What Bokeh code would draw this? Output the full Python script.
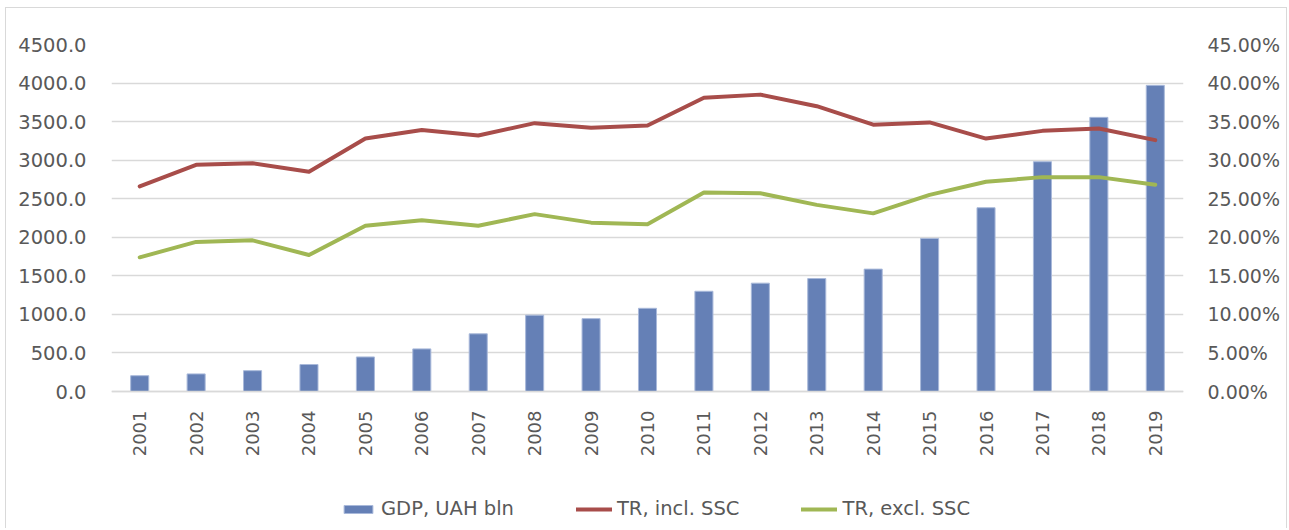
from bokeh.plotting import figure
from bokeh.models import (Range1d, FactorRange, LinearAxis, FixedTicker, NumeralTickFormatter,
                          Legend, LegendItem, ColumnDataSource)
from bokeh.embed import file_html
from bokeh.resources import INLINE
import math

years = [str(y) for y in range(2001, 2020)]
gdp = [205, 228, 270, 350, 448, 552, 748, 990, 945, 1079, 1300, 1405, 1465, 1587, 1985, 2383, 2980, 3555, 3970]
tr_incl = [0.266, 0.294, 0.296, 0.285, 0.328, 0.339, 0.332, 0.348, 0.342, 0.345, 0.381, 0.385, 0.370,
           0.346, 0.349, 0.328, 0.338, 0.341, 0.326]
tr_excl = [0.174, 0.194, 0.196, 0.177, 0.215, 0.222, 0.215, 0.230, 0.219, 0.217, 0.258, 0.257, 0.242,
           0.231, 0.255, 0.272, 0.278, 0.278, 0.268]
left_ticks = [0, 500, 1000, 1500, 2000, 2500, 3000, 3500, 4000, 4500]
right_ticks = [0.0, 0.05, 0.10, 0.15, 0.20, 0.25, 0.30, 0.35, 0.40, 0.45]

FONT = "DejaVu Sans"
TXT = "#595959"
GRID = "#D9D9D9"

# frame spans 485 px; value 0 sits 347 px below the top, leaving 138 px for labels + legend
PLOT_PX, BELOW_PX = 347, 138
y_lo = -4500 * BELOW_PX / PLOT_PX
p_lo = -0.45 * BELOW_PX / PLOT_PX

src = ColumnDataSource(dict(year=years, gdp=gdp, tr_incl=tr_incl, tr_excl=tr_excl))

p = figure(width=1282, height=521, x_range=FactorRange(*years), y_range=Range1d(y_lo, 4500),
           output_backend="svg", toolbar_location=None,
           min_border_left=105, min_border_right=105, min_border_top=36, min_border_bottom=0)
p.styles = {"border-top": "1px solid #D9D9D9", "border-left": "1px solid #D9D9D9",
            "border-right": "1px solid #D9D9D9", "margin-left": "5px", "margin-top": "7px"}
p.outline_line_color = None
p.extra_y_ranges = {"pct": Range1d(p_lo, 0.45)}

bars = p.vbar(x="year", top="gdp", width=0.32, source=src, fill_color="#6580B6",
              line_color="#A9B9DA", line_width=1)
l1 = p.line(x="year", y="tr_incl", source=src, y_range_name="pct", line_color="#A84D4A",
            line_width=4, line_join="round", line_cap="round")
l2 = p.line(x="year", y="tr_excl", source=src, y_range_name="pct", line_color="#A0B754",
            line_width=4, line_join="round", line_cap="round")

p.xgrid.grid_line_color = None
p.ygrid.grid_line_color = GRID
p.ygrid.grid_line_width = 1.3
p.yaxis.ticker = FixedTicker(ticks=left_ticks)
p.yaxis.formatter = NumeralTickFormatter(format="0.0")

for ax in p.yaxis:
    ax.axis_line_color = None
    ax.major_tick_line_color = None
    ax.minor_tick_line_color = None
    ax.major_label_text_font = FONT
    ax.major_label_text_font_size = "19.5px"
    ax.major_label_text_color = TXT
    ax.major_label_standoff = 19

ax2 = LinearAxis(y_range_name="pct", ticker=FixedTicker(ticks=right_ticks),
                 formatter=NumeralTickFormatter(format="0.00%"))
ax2.axis_line_color = None
ax2.major_tick_line_color = None
ax2.minor_tick_line_color = None
ax2.major_label_text_font = FONT
ax2.major_label_text_font_size = "19px"
ax2.major_label_text_color = TXT
ax2.major_label_standoff = 18
p.add_layout(ax2, "right")

xa = p.xaxis[0]
xa.fixed_location = 0
xa.axis_line_color = GRID
xa.axis_line_width = 1.3
xa.major_tick_line_color = None
xa.minor_tick_line_color = None
xa.major_label_orientation = math.pi / 2
xa.major_label_text_font = FONT
xa.major_label_text_font_size = "18px"
xa.major_label_text_color = TXT
xa.major_label_standoff = 13

legend = Legend(items=[LegendItem(label="GDP, UAH bln", renderers=[bars]),
                       LegendItem(label="TR, incl. SSC", renderers=[l1]),
                       LegendItem(label="TR, excl. SSC", renderers=[l2])],
                orientation="horizontal", location=(229, 9),
                glyph_width=36, glyph_height=10, label_standoff=5, spacing=62,
                padding=0, margin=0, border_line_color=None, background_fill_alpha=0,
                label_text_font=FONT, label_text_font_size="19.5px",
                label_text_color=TXT)
p.add_layout(legend, "center")

open("out.html", "w").write(file_html(p, INLINE))
